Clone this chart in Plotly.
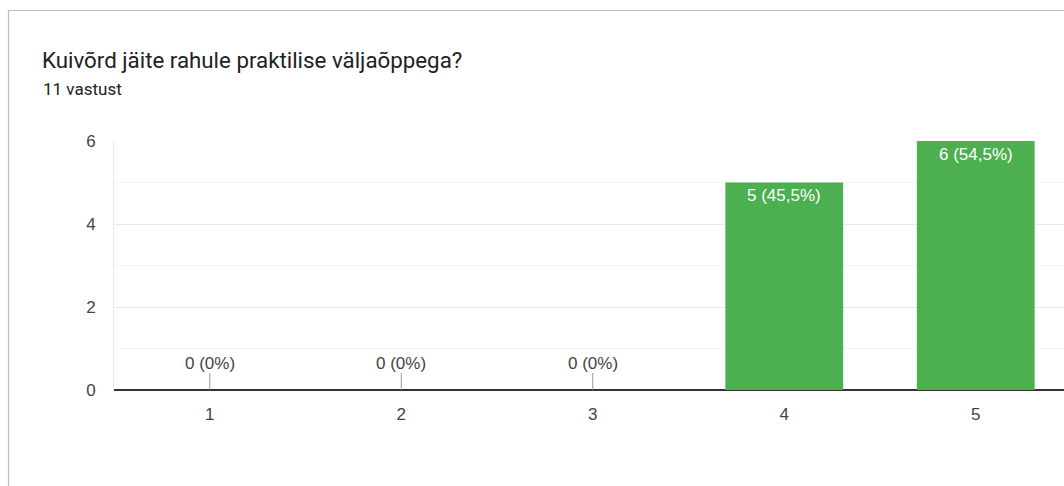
import plotly.graph_objects as go

categories = ["1", "2", "3", "4", "5"]
counts = [0, 0, 0, 5, 6]
labels = ["0 (0%)", "0 (0%)", "0 (0%)", "5 (45,5%)", "6 (54,5%)"]
y_ticks = [0, 2, 4, 6]

title_text = "Kuivõrd jäite rahule praktilise väljaõppega?"
subtitle_text = "11 vastust"

W, H = 1064, 486
px = lambda v: v / W
py = lambda v: (H - v) / H

x_vals = [int(c) for c in categories]
LBL_FONT = "Liberation Sans, Arial"

fig = go.Figure()
fig.add_trace(go.Bar(
    x=x_vals, y=counts, width=0.615,
    marker=dict(color="#4caf50", line=dict(width=0)),
    hoverinfo="skip",
))

annotations = []
shapes = []
for xv, v, lab in zip(x_vals, counts, labels):
    if v == 0:
        annotations.append(dict(x=xv, y=0, xref="x", yref="y", text=lab,
                                showarrow=False, yanchor="bottom", yshift=15,
                                font=dict(family=LBL_FONT, size=17, color="#444444")))
        shapes.append(dict(type="line", xref="x", yref="paper", x0=xv, x1=xv,
                           y0=py(390), y1=py(373), line=dict(color="#999999", width=1)))
    else:
        annotations.append(dict(x=xv, y=v, xref="x", yref="y", text=lab,
                                showarrow=False, yanchor="top", yshift=-2,
                                font=dict(family=LBL_FONT, size=17, color="#ffffff")))

annotations.append(dict(x=px(39.5), y=py(60), xref="paper", yref="paper", text=title_text,
                        showarrow=False, xanchor="left", yanchor="middle",
                        font=dict(family="Roboto", size=22.3, color="#202124")))
annotations.append(dict(x=px(40.5), y=py(89), xref="paper", yref="paper", text=subtitle_text,
                        showarrow=False, xanchor="left", yanchor="middle",
                        font=dict(family="Roboto", size=17, color="#202124")))

# outer card border
shapes.append(dict(type="rect", xref="paper", yref="paper", x0=px(8.5), x1=1.05,
                   y0=-0.05, y1=py(10.5), line=dict(color="#bdbdbd", width=1.2), layer="below"))

fig.update_layout(
    width=W, height=H,
    margin=dict(l=0, r=0, t=0, b=0, autoexpand=False),
    paper_bgcolor="white", plot_bgcolor="white",
    showlegend=False,
    annotations=annotations, shapes=shapes,
    xaxis=dict(domain=[px(114), 1.0], range=[0.5, 0.5 + (W - 114) / 191.5],
               tickvals=x_vals, ticktext=categories, showgrid=False, zeroline=False,
               showline=False, ticks="", ticklen=0, fixedrange=True, automargin=False,
               ticklabelstandoff=12,
               tickfont=dict(family=LBL_FONT, size=17, color="#444444")),
    yaxis=dict(domain=[py(390), py(141)], range=[0, 6], tickvals=y_ticks,
               showgrid=True, gridcolor="#ebebeb", gridwidth=1,
               minor=dict(dtick=1, showgrid=True, gridcolor="#f3f3f3", gridwidth=1),
               zeroline=True, zerolinecolor="#333333", zerolinewidth=2,
               showline=True, linecolor="#ebebeb", linewidth=1, ticks="",
               ticklabelstandoff=14, fixedrange=True, automargin=False,
               tickfont=dict(family=LBL_FONT, size=17, color="#444444")),
    bargap=0.385,
)

fig.write_html("out.html")
